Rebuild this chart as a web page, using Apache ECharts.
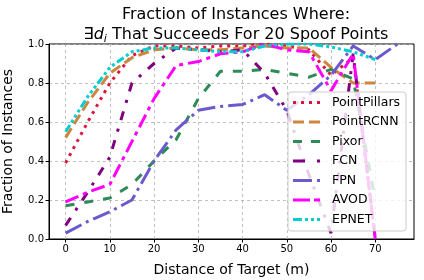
<!DOCTYPE html>
<html><head><meta charset="utf-8">
<script src="https://cdn.jsdelivr.net/npm/echarts@6/dist/echarts.min.js"></script>
<style>html,body{margin:0;padding:0;background:#fff}#c{width:424px;height:280px}</style>
</head><body><div id="c"></div>
<script>
const distances = [0,5,10,15,20,25,30,35,40,45,50,55,60,65,70,75];
const pointPillars = [0.39,0.60,0.80,0.94,0.99,0.99,0.98,0.99,0.99,1.0,0.99,0.97,0.84,0.93,0.0,null];
const pointRCNN   = [0.52,0.70,0.85,0.93,0.97,0.98,0.97,0.97,0.98,0.99,0.98,0.98,0.88,0.80,0.80,null];
const pixor       = [0.17,0.19,0.21,0.28,0.40,0.51,0.72,0.86,0.86,0.87,0.85,0.83,0.87,0.82,0.20,null];
const fcn         = [0.07,0.24,0.42,0.80,0.90,0.98,0.97,0.96,0.97,0.85,0.66,0.33,0.03,0.95,0.0,null];
const fpn         = [0.03,0.09,0.14,0.20,0.40,0.56,0.66,0.68,0.69,0.74,0.66,0.74,0.84,0.99,0.92,1.0];
const avod        = [0.19,0.24,0.28,0.50,0.72,0.89,0.91,0.95,0.96,1.0,0.97,0.96,0.76,0.95,0.0,null];
const epnet       = [0.55,0.73,0.88,0.96,0.98,0.98,0.97,0.96,0.96,0.99,1.0,1.0,0.985,0.96,0.92,null];
const xTicks = [0,10,20,30,40,50,60,70];

function segPath(segs){ // segments [x0,x1] in a 27x3 box
  return 'path://' + segs.map(s=>`M${s[0]},0L${s[1]},0L${s[1]},3L${s[0]},3Z`).join('');
}
const seriesDefs = [
  {name:'PointPillars', data:pointPillars, color:'#dc143c', dash:[3,5], icon:segPath([[0,3],[8,11],[16,19],[24,27]])},
  {name:'PointRCNN', data:pointRCNN, color:'#cd853f', dash:[11,5], icon:segPath([[0,11],[16,27]])},
  {name:'Pixor', data:pixor, color:'#2e8b57', dash:[9,10], icon:segPath([[0,9],[18,27]])},
  {name:'FCN', data:fcn, color:'#800080', dash:[9,9,3,9], icon:segPath([[0,12],[24,27]])},
  {name:'FPN', data:fpn, color:'#6a5acd', dash:[18,5,3,5], icon:segPath([[0,19],[24,27]])},
  {name:'AVOD', data:avod, color:'#ff00ff', dash:[14,5,4,5], icon:segPath([[0,17],[21,27]])},
  {name:'EPNET', data:epnet, color:'#00ced1', dash:[8,3,3,3,3,3,3,3], icon:segPath([[0,9],[12,15],[18,21],[24,27]])}
];

const font = 'DejaVu Sans';
const chart = echarts.init(document.getElementById('c'), null, {renderer:'canvas'});
chart.setOption({
  animation:false,
  backgroundColor:'#fff',
  title:{
    text:'Fraction of Instances Where:\n{n|∃}{d|d}{s|i}{n| That Succeeds For 20 Spoof Points}',
    left:231, top:0, textAlign:'center',
    textStyle:{fontFamily:font, fontSize:16, fontWeight:'normal', color:'#000', lineHeight:20,
      rich:{
        n:{fontFamily:font, fontSize:16, color:'#000', lineHeight:20},
        d:{fontFamily:font, fontSize:16, fontStyle:'italic', color:'#000', lineHeight:20},
        s:{fontFamily:font, fontSize:11, fontStyle:'italic', color:'#000', verticalAlign:'bottom', lineHeight:12, padding:[6,0,0,0]}
      }}
  },
  grid:{left:49, right:10, top:44, bottom:41, show:true, borderColor:'#000', borderWidth:1,
        backgroundColor:'transparent', outerBoundsMode:'none', containLabel:false},
  legend:{
    orient:'vertical', left:288, top:92, itemWidth:27, itemHeight:3, itemGap:4.5,
    backgroundColor:'rgba(255,255,255,0.8)', borderColor:'#cccccc', borderWidth:1, borderRadius:3,
    padding:[3,6,4,5],
    textStyle:{fontFamily:font, fontSize:12.5, color:'#000', padding:[0,0,0,7], lineHeight:15},
    data: seriesDefs.map(s=>({name:s.name, icon:s.icon}))
  },
  xAxis:{
    type:'value', min:-3.75, max:78.75,
    name:'Distance of Target (m)', nameLocation:'middle', nameGap:24,
    nameTextStyle:{fontFamily:font, fontSize:14, color:'#000'},
    axisLine:{show:true, onZero:false, lineStyle:{color:'#000', width:1}},
    axisTick:{show:true, length:3.5, lineStyle:{color:'#000'}, customValues:xTicks},
    axisLabel:{fontFamily:font, fontSize:10, color:'#000', margin:5, customValues:xTicks},
    splitLine:{show:true, lineStyle:{color:'#b0b0b0', type:[3,3], width:0.8}}
  },
  yAxis:{
    type:'value', min:0, max:1, interval:0.2,
    name:'Fraction of Instances', nameLocation:'middle', nameGap:34,
    nameTextStyle:{fontFamily:font, fontSize:14, color:'#000'},
    axisLine:{show:true, onZero:false, lineStyle:{color:'#000', width:1}},
    axisTick:{show:true, length:3.5, lineStyle:{color:'#000'}},
    axisLabel:{fontFamily:font, fontSize:10, color:'#000', margin:5, formatter:v=>v.toFixed(1)},
    splitLine:{show:true, lineStyle:{color:'#b0b0b0', type:[3,3], width:0.8}}
  },
  series: seriesDefs.map(s=>({
    name:s.name, type:'line', symbol:'none', connectNulls:false,
    data: distances.map((d,i)=>[d, s.data[i]]).filter(p=>p[1]!==null),
    lineStyle:{color:s.color, width:3, type:s.dash, cap:'butt'},
    itemStyle:{color:s.color},
    emphasis:{disabled:true}
  }))
});
</script></body></html>
